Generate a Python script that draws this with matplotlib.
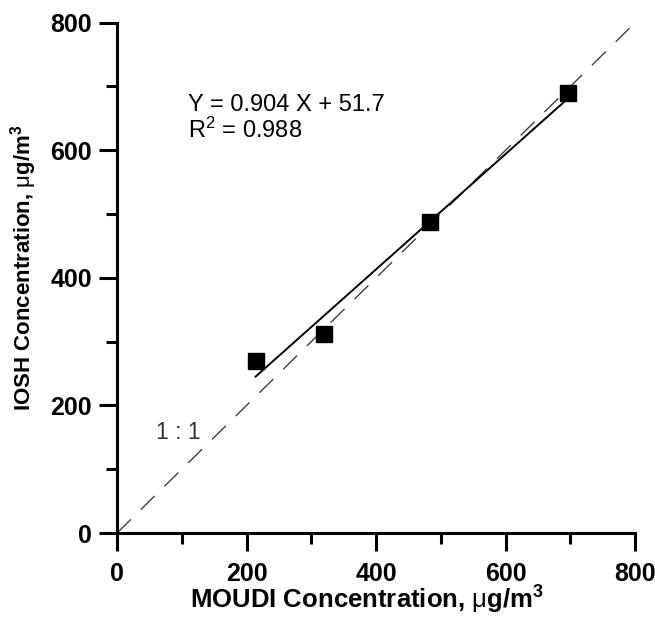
import numpy as np
import matplotlib
matplotlib.use("Agg")
import matplotlib.pyplot as plt

plt.rcParams["font.family"] = ["Liberation Sans", "DejaVu Sans"]
plt.rcParams["mathtext.fontset"] = "custom"
plt.rcParams["mathtext.rm"] = "Liberation Sans"
plt.rcParams["mathtext.it"] = "Liberation Sans"
plt.rcParams["mathtext.bf"] = "Liberation Sans:bold"

# MOUDI vs IOSH concentrations (ug/m3)
moudi = np.array([214, 319, 484, 696])
iosh = np.array([269, 312, 488, 689])
slope, intercept = 0.904, 51.7
r2 = 0.988

fig = plt.figure(figsize=(6.55, 6.18), dpi=100)
ax = fig.add_axes([0.1786, 0.1375, 0.791, 0.8258])

# 1:1 reference line
ax.plot([0, 800], [0, 800], color="0.25", lw=1.0, dashes=(14, 10))
# regression fit over the data range
xf = np.array([moudi.min(), moudi.max()])
ax.plot(xf, slope * xf + intercept, color="black", lw=1.4)
ax.plot(moudi, iosh, "s", color="black", ms=12, zorder=3)

ax.text(110, 671, f"Y = {slope} X + {intercept}", fontsize=17, va="center")
ax.text(110, 632, f"R$^2$ = {r2}", fontsize=17, va="center")
ax.text(95, 158, "1 : 1", fontsize=16.5, va="center", ha="center", color="0.2")

ax.set_xlim(0, 800)
ax.set_ylim(0, 800)
ax.set_xticks(np.arange(0, 801, 200))
ax.set_yticks(np.arange(0, 801, 200))
ax.set_xticks(np.arange(100, 800, 200), minor=True)
ax.set_yticks(np.arange(100, 800, 200), minor=True)

for s in ["top", "right"]:
    ax.spines[s].set_visible(False)
for s in ["left", "bottom"]:
    ax.spines[s].set_linewidth(2.2)
ax.tick_params(which="major", direction="out", length=13, width=2.2,
               labelsize=18)
ax.tick_params(which="minor", direction="out", length=8, width=2.2)
ax.tick_params(axis="x", which="major", pad=8)
ax.tick_params(axis="y", which="major", pad=5)
for lab in ax.get_xticklabels() + ax.get_yticklabels():
    lab.set_fontweight("bold")

ax.set_xlabel(r"MOUDI Concentration, $\mu$g/m$^{\mathbf{3}}$", fontsize=18.5,
              fontweight="bold")
ax.set_ylabel(r"IOSH Concentration, $\mu$g/m$^{\mathbf{3}}$", fontsize=16,
              fontweight="bold")
ax.xaxis.set_label_coords(0.482, -0.1)
ax.yaxis.set_label_coords(-0.15, 0.52)

fig.savefig("out.png", dpi=100)
